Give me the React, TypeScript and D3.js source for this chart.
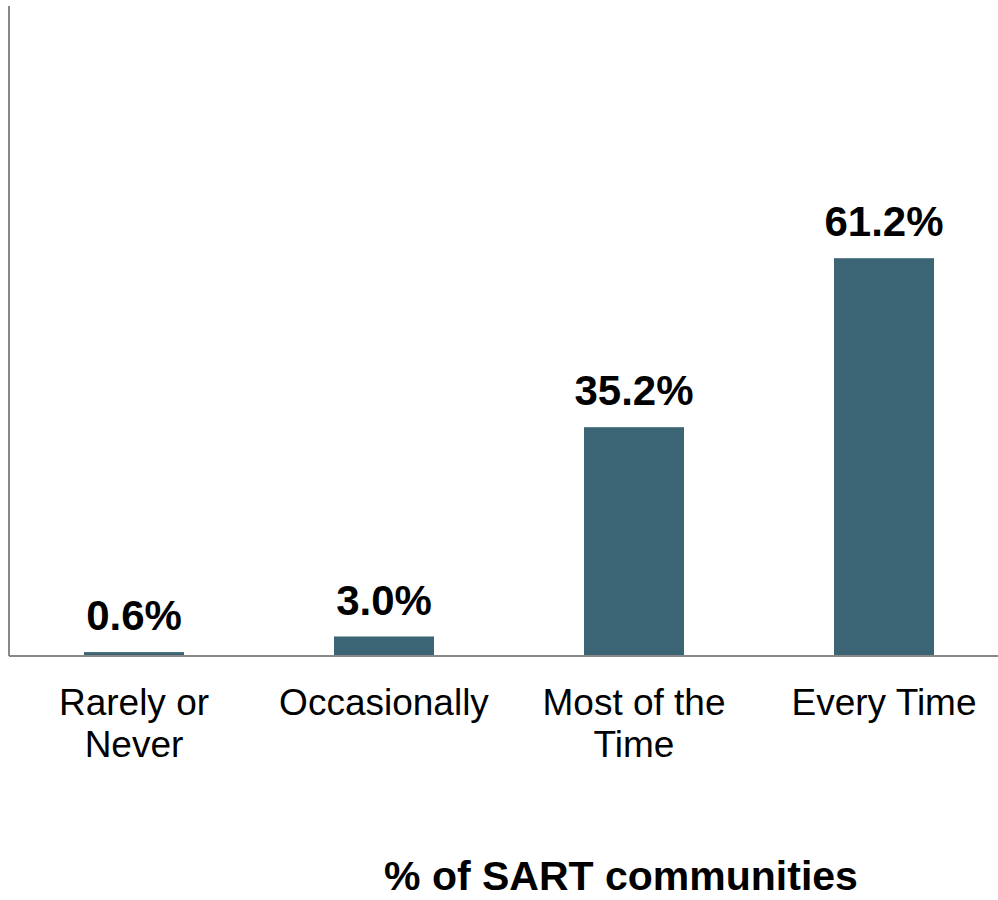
import React from "react";
import * as d3 from "d3";

const categories = ["Rarely or|Never", "Occasionally", "Most of the|Time", "Every Time"];
const values = [0.6, 3.0, 35.2, 61.2];
const valueLabels = ["0.6%", "3.0%", "35.2%", "61.2%"];
const axisTitle = "% of SART communities";

const W = 998;
const H = 900;

export default function App() {
  const x = d3
    .scaleBand<string>()
    .domain(categories)
    .range([9, 1009])
    .paddingInner(0.6)
    .paddingOuter(0.3);
  const y = d3.scaleLinear().domain([0, 100]).range([656, 6]);
  const font = "'Liberation Sans', Arial, sans-serif";

  return (
    <svg
      width={W}
      height={H}
      style={{ position: "absolute", left: 0, top: 0, background: "#fff" }}
      fontFamily={font}
    >
      {categories.map((c, i) => (
        <rect
          key={c}
          x={x(c)!}
          y={y(values[i])}
          width={x.bandwidth()}
          height={y(0) - y(values[i])}
          fill="#3b6474"
        />
      ))}
      <line x1={9} x2={9} y1={y(100)} y2={y(0)} stroke="#888" strokeWidth={2} />
      <line x1={9} x2={W} y1={y(0)} y2={y(0)} stroke="#888" strokeWidth={2} />
      {categories.map((c, i) => (
        <text
          key={"v" + c}
          x={x(c)! + x.bandwidth() / 2}
          y={y(values[i]) - 22}
          textAnchor="middle"
          fontWeight="bold"
          fontSize={42}
          fill="#000"
        >
          {valueLabels[i]}
        </text>
      ))}
      {categories.map((c) => (
        <text
          key={"c" + c}
          x={x(c)! + x.bandwidth() / 2}
          y={715}
          textAnchor="middle"
          fontSize={37}
          fill="#000"
        >
          {c.split("|").map((line, j) => (
            <tspan key={j} x={x(c)! + x.bandwidth() / 2} dy={j === 0 ? 0 : 42}>
              {line}
            </tspan>
          ))}
        </text>
      ))}
      <text x={621} y={890} textAnchor="middle" fontWeight="bold" fontSize={41} fill="#000">
        {axisTitle}
      </text>
    </svg>
  );
}
